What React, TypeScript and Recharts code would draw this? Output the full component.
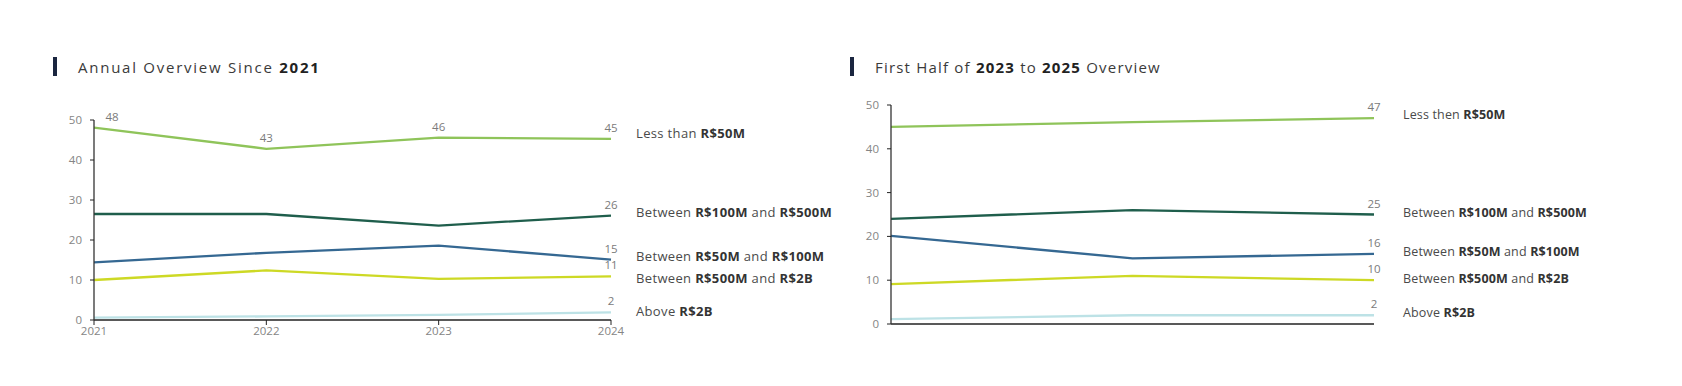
import { LabelList, Line, LineChart, XAxis, YAxis } from "recharts";

// annual overview (left chart)
const ANNUAL_YEARS = ["2021", "2022", "2023", "2024"];
const ANNUAL_LT_50M = [48.1, 42.8, 45.6, 45.3];
const ANNUAL_100M_500M = [26.5, 26.5, 23.6, 26.1];
const ANNUAL_50M_100M = [14.4, 16.8, 18.6, 15.1];
const ANNUAL_500M_2B = [10.0, 12.4, 10.3, 10.9];
const ANNUAL_ABOVE_2B = [0.6, 0.9, 1.3, 1.9];

// first half overview (right chart)
const HALF_PERIODS = ["1H 2023", "1H 2024", "1H 2025"];
const HALF_LT_50M = [45, 46.1, 47];
const HALF_100M_500M = [24, 26, 25];
const HALF_50M_100M = [20.1, 15, 16];
const HALF_500M_2B = [9.1, 11, 10];
const HALF_ABOVE_2B = [1.1, 2, 2];

const Y_TICKS = [0, 10, 20, 30, 40, 50];

// legend names: odd parts are bold
const LEFT_NAMES = [
  ["Less than ", "R$50M"],
  ["Between ", "R$100M", " and ", "R$500M"],
  ["Between ", "R$50M", " and ", "R$100M"],
  ["Between ", "R$500M", " and ", "R$2B"],
  ["Above ", "R$2B"],
];
const RIGHT_NAMES = [
  ["Less then ", "R$50M"],
  ["Between ", "R$100M", " and ", "R$500M"],
  ["Between ", "R$50M", " and ", "R$100M"],
  ["Between ", "R$500M", " and ", "R$2B"],
  ["Above ", "R$2B"],
];

const COLORS = ["#8fc45a", "#1f5e4c", "#356892", "#cdd925", "#bde2e6"];
const KEYS = ["lt50", "b100", "b50", "b500", "above"];

const FONT = "'Open Sans', sans-serif";
const TICK = { fill: "#858585", fontSize: 11.5, fontFamily: FONT };

function buildRows(cats: string[], series: number[][]) {
  return cats.map((c, i) => {
    const row: Record<string, any> = { cat: c };
    KEYS.forEach((k, j) => (row[k] = series[j][i]));
    return row;
  });
}

const labelRenderer = (n: number, all: boolean) => (p: any) => {
  const { x, y, value, index } = p;
  if (!all && index !== n - 1) return null;
  const dx = all && index === 0 ? 18 : 0;
  return (
    <text
      x={x + dx}
      y={y - 7}
      textAnchor="middle"
      fontSize={11.5}
      fill="#7b7b7b"
      fontFamily={FONT}
    >
      {Math.round(value)}
    </text>
  );
};

function Overview({
  rows,
  n,
  showX,
  margin,
}: {
  rows: any[];
  n: number;
  showX: boolean;
  margin: { top: number; right: number; bottom: number; left: number };
}) {
  return (
    <LineChart width={700} height={386} data={rows} margin={margin}>
      <XAxis
        dataKey="cat"
        height={showX ? 30 : 5}
        tick={showX ? TICK : false}
        tickLine={showX ? { stroke: "#222" } : false}
        tickSize={5}
        axisLine={{ stroke: "#222", strokeWidth: 1.3 }}
      />
      <YAxis
        domain={[0, 50]}
        ticks={Y_TICKS}
        width={40}
        tick={TICK}
        tickSize={4}
        tickMargin={8}
        tickLine={{ stroke: "#222" }}
        axisLine={{ stroke: "#333", strokeWidth: 1.3 }}
      />
      {KEYS.map((k, j) => (
        <Line
          key={k}
          dataKey={k}
          stroke={COLORS[j]}
          strokeWidth={2.3}
          dot={false}
          isAnimationActive={false}
        >
          <LabelList dataKey={k} content={labelRenderer(n, showX && j === 0)} />
        </Line>
      ))}
    </LineChart>
  );
}

function Title({ left, parts, spacing }: { left: number; parts: string[]; spacing: number }) {
  return (
    <>
      <div
        style={{
          position: "absolute",
          left: left,
          top: 57,
          width: 4,
          height: 19,
          background: "#1b2640",
        }}
      />
      <div
        style={{
          position: "absolute",
          left: left + 25,
          top: 57,
          fontSize: 15,
          lineHeight: "20px",
          letterSpacing: spacing,
          color: "#3a3a3a",
          whiteSpace: "nowrap",
        }}
      >
        {parts.map((t, i) => (
          <span key={i} style={i % 2 ? { fontWeight: 700, color: "#222" } : undefined}>
            {t}
          </span>
        ))}
      </div>
    </>
  );
}

function Names({
  left,
  tops,
  names,
  size,
  spacing,
}: {
  left: number;
  tops: number[];
  names: string[][];
  size: number;
  spacing: number;
}) {
  return (
    <>
      {names.map((parts, i) => (
        <div
          key={i}
          style={{
            position: "absolute",
            left: left,
            top: tops[i] - 9,
            fontSize: size,
            lineHeight: "18px",
            letterSpacing: spacing,
            color: "#4a4a4a",
            whiteSpace: "nowrap",
          }}
        >
          {parts.map((t, k) => (
            <span key={k} style={k % 2 ? { fontWeight: 700, color: "#333" } : undefined}>
              {t}
            </span>
          ))}
        </div>
      ))}
    </>
  );
}

export default function App() {
  const left = buildRows(ANNUAL_YEARS, [
    ANNUAL_LT_50M,
    ANNUAL_100M_500M,
    ANNUAL_50M_100M,
    ANNUAL_500M_2B,
    ANNUAL_ABOVE_2B,
  ]);
  const right = buildRows(HALF_PERIODS, [
    HALF_LT_50M,
    HALF_100M_500M,
    HALF_50M_100M,
    HALF_500M_2B,
    HALF_ABOVE_2B,
  ]);
  return (
    <div
      style={{
        position: "absolute",
        left: 0,
        top: 0,
        width: 1682,
        height: 386,
        background: "#fff",
        fontFamily: FONT,
      }}
    >
      <Title left={53} spacing={1.75} parts={["Annual Overview Since ", "2021"]} />
      <Title
        left={850}
        spacing={1.2}
        parts={["First Half of ", "2023", " to ", "2025", " Overview"]}
      />
      <div style={{ position: "absolute", left: 0, top: 0 }}>
        <Overview
          rows={left}
          n={ANNUAL_YEARS.length}
          showX
          margin={{ top: 120, right: 89, bottom: 36, left: 54 }}
        />
      </div>
      <div style={{ position: "absolute", left: 800, top: 0 }}>
        <Overview
          rows={right}
          n={HALF_PERIODS.length}
          showX={false}
          margin={{ top: 105, right: 126, bottom: 57, left: 51 }}
        />
      </div>
      <Names
        left={636}
        tops={[133, 212, 256, 278, 311]}
        names={LEFT_NAMES}
        size={13}
        spacing={0.35}
      />
      <Names
        left={1403}
        tops={[115, 213, 252, 279, 313]}
        names={RIGHT_NAMES}
        size={12.5}
        spacing={0.15}
      />
    </div>
  );
}
